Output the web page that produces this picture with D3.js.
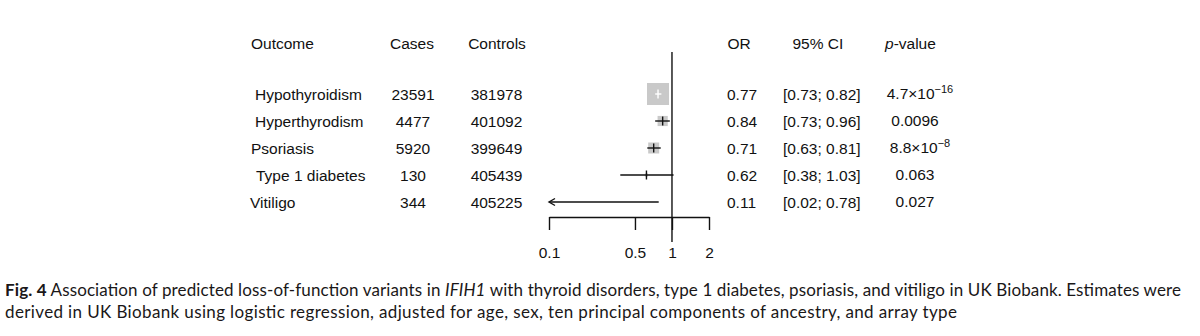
<!DOCTYPE html>
<html>
<head>
<meta charset="utf-8">
<script src="https://cdn.jsdelivr.net/npm/d3@7/dist/d3.min.js"></script>
<style>
  html, body { margin: 0; padding: 0; background: #fff; }
  svg { display: block; }
  .tbl { font-family: "Liberation Sans", Arial, Helvetica, sans-serif; font-size: 15.5px; fill: #111; }
  .cap { font-family: Lato, "Open Sans", sans-serif; font-size: 17px; fill: #1a1718; }
</style>
</head>
<body>
<svg id="chart" width="1200" height="336"></svg>
<script>
// Forest plot: IFIH1 loss-of-function variants, UK Biobank
const outcomes = ["Hypothyroidism", "Hyperthyrodism", "Psoriasis", "Type 1 diabetes", "Vitiligo"];
const cases    = [23591, 4477, 5920, 130, 344];
const controls = [381978, 401092, 399649, 405439, 405225];
const oddsRatio = [0.77, 0.84, 0.71, 0.62, 0.11];
const ciLower   = [0.73, 0.73, 0.63, 0.38, 0.02];
const ciUpper   = [0.82, 0.96, 0.81, 1.03, 0.78];
const pValues   = [4.7e-16, 0.0096, 8.8e-8, 0.063, 0.027];
const axisTicks = [0.1, 0.5, 1, 2];
const headers   = ["Outcome", "Cases", "Controls", "OR", "95% CI", "p-value"];

const svg = d3.select("#chart");

const x = d3.scaleLog().domain([0.1, 2]).range([549, 709]);
const y = d3.scalePoint().domain(outcomes).range([94, 202]);

// inverse-variance weights from the CI width set the square size
const weights = outcomes.map((_, i) => {
  const se = (Math.log(ciUpper[i]) - Math.log(ciLower[i])) / (2 * 1.959964);
  return 1 / (se * se);
});
const boxSize = d3.scalePow().exponent(0.45).domain([0, d3.max(weights)]).range([0, 22]);

const rows = outcomes.map((o, i) => ({
  outcome: o, cases: cases[i], controls: controls[i],
  or: oddsRatio[i], lo: ciLower[i], hi: ciUpper[i], p: pValues[i], w: weights[i]
}));

// header row
const headerX = [251, 412, 497, 727.5, 792.5, 885];
const headerAnchor = ["start", "middle", "middle", "start", "start", "start"];
const hdr = svg.append("g").attr("class", "tbl");
headers.forEach((h, i) => {
  const t = hdr.append("text")
    .attr("x", headerX[i]).attr("y", 48.5)
    .attr("text-anchor", headerAnchor[i]);
  if (h === "p-value") {
    t.append("tspan").attr("font-style", "italic").text("p");
    t.append("tspan").text("-value");
  } else {
    t.text(h);
  }
});

// left-hand table
const labelIndent = [4, 4, 0, 5, -1];
const tbl = svg.append("g").attr("class", "tbl");
tbl.selectAll("text.outcome").data(rows).join("text")
  .attr("class", "outcome")
  .attr("x", (d, i) => 251 + labelIndent[i])
  .attr("y", d => y(d.outcome) + 6)
  .text(d => d.outcome);
tbl.selectAll("text.cases").data(rows).join("text")
  .attr("class", "cases")
  .attr("x", 413).attr("text-anchor", "middle")
  .attr("y", d => y(d.outcome) + 6)
  .text(d => d.cases);
tbl.selectAll("text.controls").data(rows).join("text")
  .attr("class", "controls")
  .attr("x", 496.5).attr("text-anchor", "middle")
  .attr("y", d => y(d.outcome) + 6)
  .text(d => d.controls);

// right-hand table
const f2 = d3.format(".2f");
tbl.selectAll("text.or").data(rows).join("text")
  .attr("class", "or")
  .attr("x", 727)
  .attr("y", d => y(d.outcome) + 6)
  .text(d => f2(d.or));
tbl.selectAll("text.ci").data(rows).join("text")
  .attr("class", "ci")
  .attr("x", 783)
  .attr("y", d => y(d.outcome) + 6)
  .text(d => `[${f2(d.lo)}; ${f2(d.hi)}]`);

const pText = tbl.selectAll("text.p").data(rows).join("text")
  .attr("class", "p")
  .attr("x", 915).attr("text-anchor", "middle")
  .attr("y", d => y(d.outcome) + 5);
pText.each(function (d) {
  const t = d3.select(this);
  if (d.p < 1e-4) {
    const [m, e] = d.p.toExponential(1).split("e");
    t.attr("x", 920);
    t.append("tspan").text(m + "\u00d710");
    t.append("tspan").attr("dy", -6).attr("font-size", "11px")
      .text(e.replace("-", "\u2212"));
  } else {
    t.text(String(d.p));
  }
});

// plot: reference line at OR = 1
svg.append("line")
  .attr("x1", x(1)).attr("x2", x(1))
  .attr("y1", 52).attr("y2", 242)
  .attr("stroke", "#111").attr("stroke-width", 1.4);

// squares
const marks = svg.append("g");
marks.selectAll("rect").data(rows).join("rect")
  .attr("x", d => x(d.or) - boxSize(d.w) / 2)
  .attr("y", d => y(d.outcome) - boxSize(d.w) / 2)
  .attr("width", d => boxSize(d.w))
  .attr("height", d => boxSize(d.w))
  .attr("fill", "#c9c9c9");

// CI lines: white where the interval sits inside its square
const inside = d => (x(d.hi) - x(d.lo)) < boxSize(d.w);
const clipLo = d => Math.max(d.lo, x.domain()[0]);
marks.selectAll("line.ci").data(rows).join("line")
  .attr("class", "ci")
  .attr("x1", d => x(clipLo(d)) + (d.lo < x.domain()[0] ? 1 : 0))
  .attr("x2", d => x(d.hi))
  .attr("y1", d => y(d.outcome)).attr("y2", d => y(d.outcome))
  .attr("stroke", d => inside(d) ? "#fff" : "#111")
  .attr("stroke-width", 1.4);
marks.selectAll("line.est").data(rows.filter(d => d.or >= 0.15)).join("line")
  .attr("class", "est")
  .attr("x1", d => x(d.or)).attr("x2", d => x(d.or))
  .attr("y1", d => y(d.outcome) - 4.5).attr("y2", d => y(d.outcome) + 4.5)
  .attr("stroke", d => inside(d) ? "#fff" : "#111")
  .attr("stroke-width", 1.4);

// arrowheads where the interval runs past the axis
marks.selectAll("path.arrow").data(rows.filter(d => d.lo < x.domain()[0])).join("path")
  .attr("class", "arrow")
  .attr("d", d => {
    const x0 = x(x.domain()[0]), y0 = y(d.outcome);
    return `M${x0 + 6},${y0 - 3.5}L${x0},${y0}L${x0 + 6},${y0 + 3.5}`;
  })
  .attr("fill", "none").attr("stroke", "#111").attr("stroke-width", 1.4);

// axis
const axis = d3.axisBottom(x)
  .tickValues(axisTicks)
  .tickFormat(d => String(d))
  .tickSize(13).tickSizeOuter(0).tickPadding(17);
const ax = svg.append("g").attr("transform", "translate(0,217)").call(axis);
ax.select(".domain").attr("stroke", "#111").attr("stroke-width", 1.4);
ax.selectAll(".tick line").attr("stroke", "#111").attr("stroke-width", 1.4);
ax.selectAll(".tick text")
  .attr("font-family", "'Liberation Sans', Arial, Helvetica, sans-serif")
  .attr("font-size", "15.5px").attr("fill", "#111");

// caption
const cap = svg.append("g").attr("class", "cap");
const l1 = cap.append("text").attr("x", 5).attr("y", 296)
  .attr("textLength", 1176).attr("lengthAdjust", "spacing");
l1.append("tspan").attr("font-weight", "bold").text("Fig. 4");
l1.append("tspan").text(" Association of predicted loss-of-function variants in ");
l1.append("tspan").attr("font-style", "italic").text("IFIH1");
l1.append("tspan").text(" with thyroid disorders, type 1 diabetes, psoriasis, and vitiligo in UK Biobank. Estimates were");
cap.append("text").attr("x", 5).attr("y", 318)
  .attr("textLength", 952).attr("lengthAdjust", "spacing")
  .text("derived in UK Biobank using logistic regression, adjusted for age, sex, ten principal components of ancestry, and array type");
</script>
</body>
</html>
